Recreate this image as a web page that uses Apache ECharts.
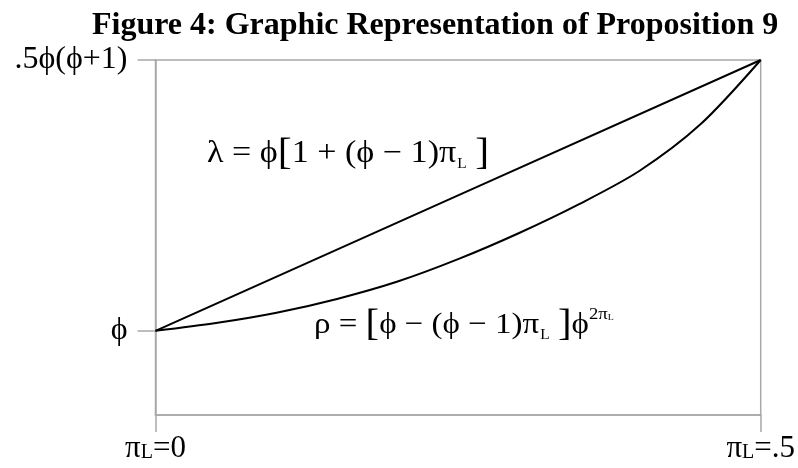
<!DOCTYPE html>
<html>
<head>
<meta charset="utf-8">
<script src="https://cdn.jsdelivr.net/npm/echarts@6/dist/echarts.min.js"></script>
<style>html,body{margin:0;padding:0;background:#fff;}#c{width:798px;height:468px;}</style>
</head>
<body>
<div id="c"></div>
<script>
// x: pi_L, y: normalized height (bottom of plot = 0, .5ϕ(ϕ+1) = 100)
const piValues = [0, 0.05, 0.1, 0.15, 0.2, 0.25, 0.3, 0.35, 0.4, 0.45, 0.5];
const rhoValues = [23.7, 25.9, 28.8, 32.7, 37.6, 43.9, 51.2, 59.4, 68.8, 81.8, 100];
const lambdaPi = [0, 0.25, 0.5];
const lambdaValues = [23.7, 61.85, 100];
const yTickValues = [23.7, 100];
const yTickLabels = ['ϕ', '.5ϕ(ϕ+1)'];
const xTickValues = [0, 0.5];
const xTickLabels = ['{a|π}{s|L}{a|=0}', '{a|π}{s|L}{a|=.5}'];
const titleText = 'Figure 4: Graphic Representation of Proposition 9';

const SERIF = "'Liberation Serif','Times New Roman',serif";
const GRAY = '#a8a8a8';
const chart = echarts.init(document.getElementById('c'), null, {renderer: 'canvas'});
chart.setOption({
  animation: false,
  backgroundColor: '#fff',
  title: {
    text: titleText, left: 87, top: 5,
    textStyle: {fontFamily: SERIF, fontWeight: 'bold', fontSize: 32, color: '#000'}
  },
  grid: {left: 155.5, right: 36, top: 60, bottom: 53, show: true, borderColor: GRAY, borderWidth: 1.5},
  xAxis: {
    type: 'value', min: 0, max: 0.5, interval: 0.5,
    axisLine: {show: true, lineStyle: {color: GRAY, width: 1.5}},
    axisTick: {show: true, length: 17, lineStyle: {color: GRAY, width: 1.5}},
    splitLine: {show: false},
    axisLabel: {
      margin: 18, showMinLabel: true, showMaxLabel: true,
      formatter: function (v) { const i = xTickValues.indexOf(v); return i >= 0 ? xTickLabels[i] : ''; },
      rich: {
        a: {fontFamily: SERIF, fontSize: 31, color: '#000', lineHeight: 32, verticalAlign: 'top'},
        s: {fontFamily: SERIF, fontSize: 20, color: '#000', lineHeight: 32, verticalAlign: 'top', padding: [10, 0, 0, 0]}
      }
    }
  },
  yAxis: {
    type: 'value', min: 0, max: 100,
    axisLine: {show: true, lineStyle: {color: GRAY, width: 1.5}},
    axisTick: {show: true, length: 18, customValues: yTickValues, lineStyle: {color: GRAY, width: 1.5}},
    splitLine: {show: false},
    axisLabel: {
      customValues: yTickValues, margin: 28,
      fontFamily: SERIF, fontSize: 32, color: '#000',
      formatter: function (v) { const i = yTickValues.indexOf(v); return i >= 0 ? yTickLabels[i] : ''; }
    }
  },
  graphic: [
    {
      type: 'text', x: 207, y: 134, scaleX: 1.1, z: 10,
      style: {
        text: '{n|λ = ϕ}{b|[}{n|1 + (ϕ − 1)π}{s|L}{n| }{b|]}',
        rich: {
          n: {fontFamily: SERIF, fontSize: 31, fill: '#000', lineHeight: 40, verticalAlign: 'middle'},
          b: {fontFamily: SERIF, fontSize: 38, fill: '#000', lineHeight: 40, verticalAlign: 'middle'},
          s: {fontFamily: SERIF, fontSize: 14, fill: '#000', lineHeight: 15, verticalAlign: 'bottom', padding: [0, 0, 3, 1]}
        }
      }
    },
    {
      type: 'text', x: 314, y: 305, scaleX: 1.1, z: 10,
      style: {
        text: '{n|ρ = }{b|[}{n|ϕ − (ϕ − 1)π}{s|L}{n| }{b|]}{n|ϕ}{p|2π}{q|L}',
        rich: {
          n: {fontFamily: SERIF, fontSize: 30, fill: '#000', lineHeight: 40, verticalAlign: 'middle'},
          b: {fontFamily: SERIF, fontSize: 37, fill: '#000', lineHeight: 40, verticalAlign: 'middle'},
          s: {fontFamily: SERIF, fontSize: 14, fill: '#000', lineHeight: 15, verticalAlign: 'bottom', padding: [0, 0, 3, 1]},
          p: {fontFamily: SERIF, fontSize: 17, fill: '#000', lineHeight: 18, verticalAlign: 'top', padding: [1, 0, 0, 0]},
          q: {fontFamily: SERIF, fontSize: 9, fill: '#000', lineHeight: 18, verticalAlign: 'top', padding: [8, 0, 0, 0]}
        }
      }
    }
  ],
  series: [
    {
      type: 'line', name: 'lambda', showSymbol: false, silent: true,
      data: lambdaPi.map((p, i) => [p, lambdaValues[i]]),
      lineStyle: {color: '#000', width: 2}
    },
    {
      type: 'line', name: 'rho', showSymbol: false, silent: true, smooth: 0.3,
      data: piValues.map((p, i) => [p, rhoValues[i]]),
      lineStyle: {color: '#000', width: 2}
    }
  ]
});
</script>
</body>
</html>
